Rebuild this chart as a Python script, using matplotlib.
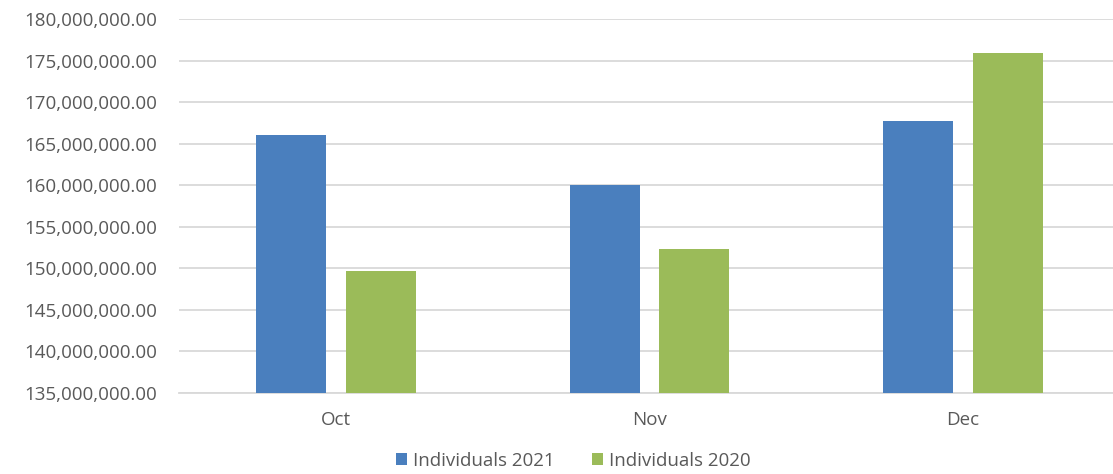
import matplotlib.pyplot as plt
import matplotlib.ticker as mticker
import numpy as np

months = ["Oct", "Nov", "Dec"]
individuals_2021 = [166_080_000, 160_050_000, 167_750_000]
individuals_2020 = [149_640_000, 152_300_000, 175_880_000]

plt.rcParams['font.family'] = ['Open Sans', 'DejaVu Sans']

fig = plt.figure(figsize=(11.13, 4.74), dpi=100)
ax = fig.add_axes([0.161, 0.171, 0.845, 0.789])

x = np.arange(len(months))
w = 0.223
ax.bar(x - 0.143, individuals_2021, w, color='#4A7FBE', label='Individuals 2021', zorder=3)
ax.bar(x + 0.143, individuals_2020, w, color='#9BBB59', label='Individuals 2020', zorder=3)

ax.set_ylim(135_000_000, 180_000_000)
ax.set_xlim(-0.5, 2.5)
ax.yaxis.set_major_locator(mticker.MultipleLocator(5_000_000))
ax.yaxis.set_major_formatter(mticker.FuncFormatter(lambda v, p: f"{v:,.2f}"))
ax.set_xticks(x)
ax.set_xticklabels(months)

ax.grid(axis='y', color='#D9D9D9', linewidth=1.3, zorder=0)
for s in ['top', 'right', 'left']:
    ax.spines[s].set_visible(False)
ax.spines['bottom'].set_color('#D9D9D9')
ax.spines['bottom'].set_linewidth(1.3)
ax.tick_params(axis='both', length=0, labelsize=13.5, colors='#595959')
ax.tick_params(axis='y', pad=16)
ax.tick_params(axis='x', pad=13)

fig.legend(loc='center', bbox_to_anchor=(573 / 1113, 1 - 461 / 474), ncol=2, frameon=False,
           fontsize=13.5, labelcolor='#595959', handlelength=0.6, handleheight=0.6,
           handletextpad=0.3, columnspacing=2.0)

fig.savefig('out.png', dpi=100)
